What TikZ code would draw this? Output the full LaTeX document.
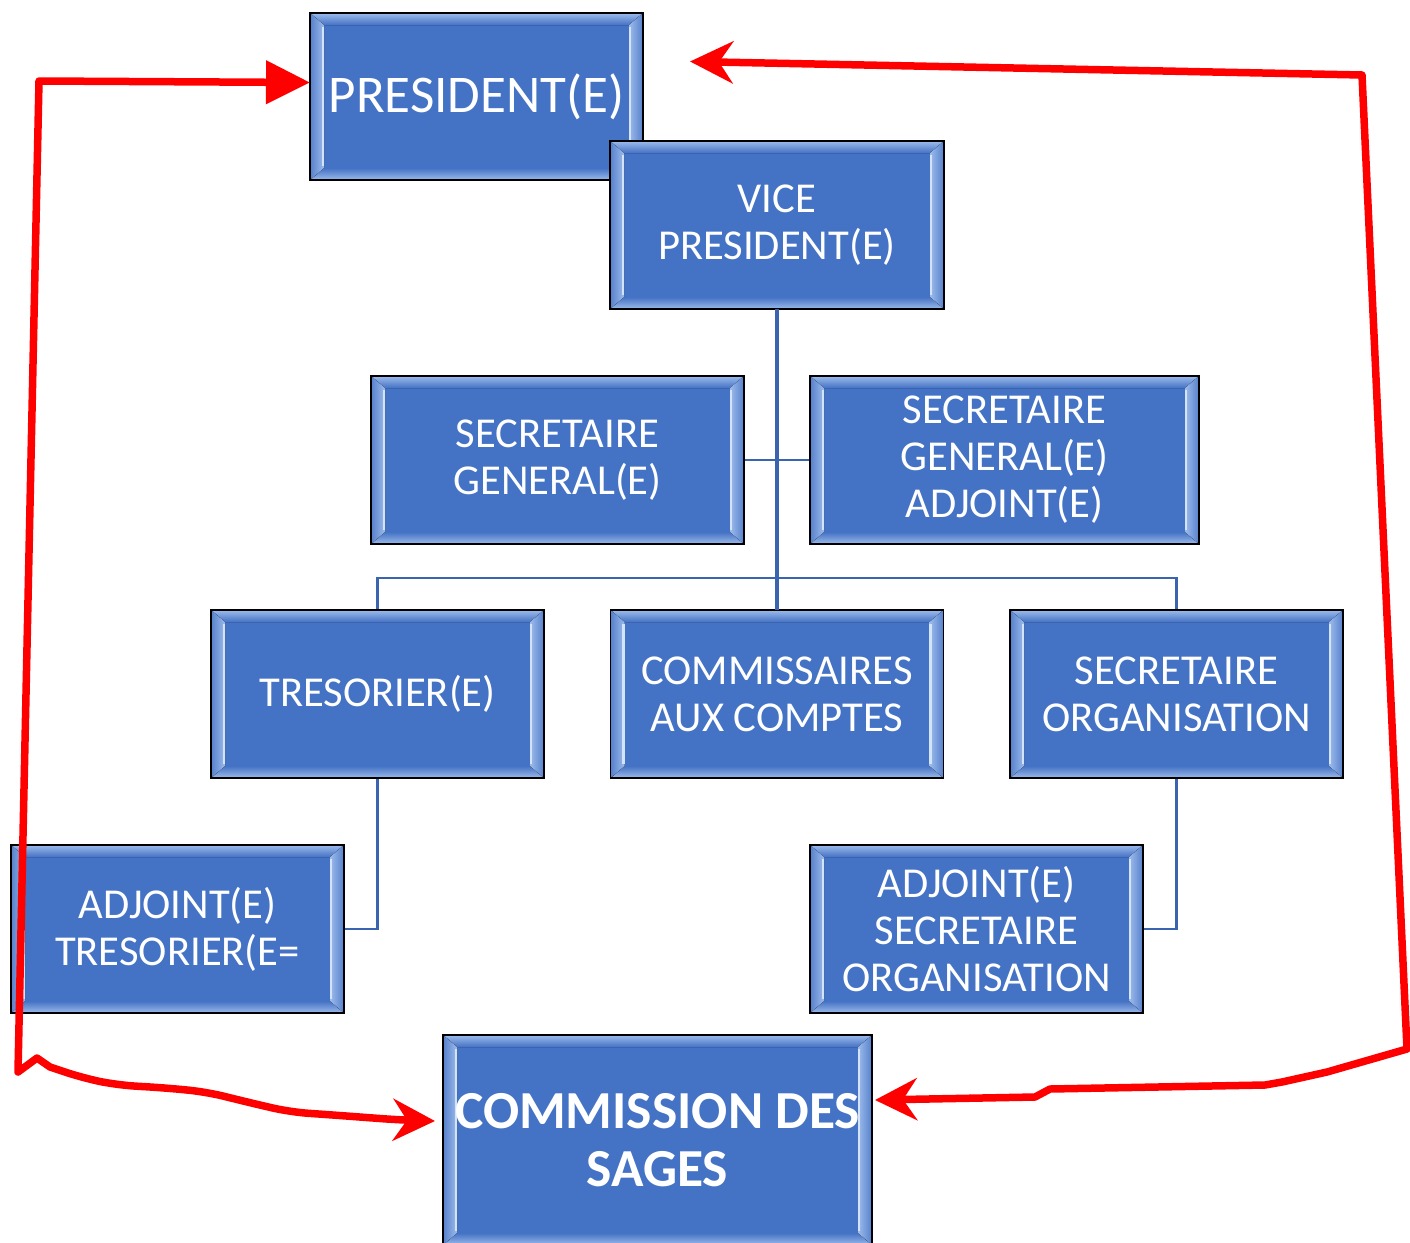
\documentclass[tikz,border=0pt]{standalone}
\usepackage{fontspec}
\setmainfont{Carlito}
\usetikzlibrary{arrows.meta,calc}
\definecolor{boxblue}{HTML}{4472C4}
\definecolor{bevlight}{HTML}{9DBBEB}
\definecolor{bevside}{HTML}{5580CC}
\definecolor{bevstripe}{HTML}{D3E4FA}
\definecolor{linkblue}{HTML}{3A64B0}
\definecolor{arrowred}{HTML}{FF0000}
\tikzset{
  orgbox/.style={fill=boxblue, draw=black, line width=1.6pt, text=white, align=center,
    inner sep=0pt, outer sep=0pt, minimum height=168pt},
  boxtext/.style={text=white, align=center, font=\fontsize{42.6}{47}\selectfont},
  link/.style={draw=linkblue, line width=2.5pt},
  trunk/.style={draw=linkblue, line width=3.2pt},
  redline/.style={draw=arrowred, line width=7.5pt, line join=round, line cap=round},
}
\newcommand\bevel[1]{%
  \fill[top color=bevlight, bottom color=boxblue] (#1.north west) -- (#1.north east) -- ([xshift=-14pt,yshift=-12pt]#1.north east) -- ([xshift=14pt,yshift=-12pt]#1.north west) -- cycle;
  \fill[top color=boxblue, bottom color=bevlight] ([xshift=14pt,yshift=12pt]#1.south west) -- ([xshift=-14pt,yshift=12pt]#1.south east) -- (#1.south east) -- (#1.south west) -- cycle;
  \fill[left color=bevside, right color=bevlight] (#1.north west) -- ([xshift=14pt,yshift=-12pt]#1.north west) -- ([xshift=14pt,yshift=12pt]#1.south west) -- (#1.south west) -- cycle;
  \fill[left color=bevlight, right color=bevside] ([xshift=-14pt,yshift=-12pt]#1.north east) -- (#1.north east) -- (#1.south east) -- ([xshift=-14pt,yshift=12pt]#1.south east) -- cycle;
  \draw[bevstripe, line width=2.5pt] ([xshift=13pt,yshift=-14pt]#1.north west) -- ([xshift=13pt,yshift=14pt]#1.south west);
  \draw[bevstripe, line width=2.5pt] ([xshift=-13pt,yshift=-14pt]#1.north east) -- ([xshift=-13pt,yshift=14pt]#1.south east);
  \draw[black, line width=1.6pt] (#1.north west) rectangle (#1.south east);
}
\begin{document}
\begin{tikzpicture}[x=1pt,y=-1pt]
\clip (0,0) rectangle (1410,1242);
\fill[white] (0,0) rectangle (1410,1242);

\coordinate (sgline) at (777,578);

% boxes
\node[orgbox, minimum width=333pt, minimum height=167pt] (pres) at (476.5,96.5) {};
\bevel{pres}
\node[boxtext, font=\fontsize{53}{58}\selectfont] at (pres.center) {PRESIDENT(E)};

\node[orgbox, minimum width=334pt] (vice) at (777,225) {};
\bevel{vice}
\node[boxtext] at (vice.center) {VICE\\PRESIDENT(E)};

\node[orgbox, minimum width=333pt] (comm) at (777,694) {};
\node[orgbox, minimum width=333pt] (tres) at (377.5,694) {};
\node[orgbox, minimum width=333pt] (secorg) at (1176.5,694) {};

\node[orgbox, minimum width=373pt] (sg) at (557.5,460) {};
\node[orgbox, minimum width=389pt] (sga) at (1004.5,460) {};
\draw[link] (sg.east) -- (sga.west);
\draw[link] (tres.north) |- (sgline) -| (secorg.north);

\node[orgbox, minimum width=333pt] (adjt) at (177.5,929) {};
\node[orgbox, minimum width=333pt] (adjs) at (976.5,929) {};
\draw[link] (tres.south) |- (adjt.east);
\draw[link] (secorg.south) |- (adjs.east);

\node[orgbox, minimum width=429pt, minimum height=210pt] (sages) at (657.5,1140) {};

\foreach \n in {sg,sga,tres,comm,secorg,adjt,adjs,sages}{\bevel{\n}}
\draw[trunk] (vice.south) -- (comm.north);

\node[boxtext] at (sg.center) {SECRETAIRE\\GENERAL(E)};
\node[boxtext] at (sga.center) {SECRETAIRE\\GENERAL(E)\\ADJOINT(E)};
\node[boxtext] at (tres.center) {TRESORIER(E)};
\node[boxtext] at (comm.center) {COMMISSAIRES\\AUX COMPTES};
\node[boxtext] at (secorg.center) {SECRETAIRE\\ORGANISATION};
\node[boxtext] at (adjt.center) {ADJOINT(E)\\TRESORIER(E=};
\node[boxtext] at (adjs.center) {ADJOINT(E)\\SECRETAIRE\\ORGANISATION};
\node[boxtext, font=\bfseries\fontsize{53.5}{58}\selectfont] at (sages.center) {COMMISSION DES\\SAGES};

% red arrows
\draw[redline, {Stealth[length=42pt,width=42pt,inset=14pt]}-{Triangle[length=44pt,width=42pt]}]
  ([xshift=-8pt,yshift=19pt]sages.west)
  [rounded corners=18pt] -- (400,1120) -- (333,1115) -- (290,1112) -- (247,1102) -- (207,1092) -- (167,1088) -- (117,1085) -- (83,1078)
  [sharp corners] -- (50,1067) -- (37,1058) -- (18,1072) -- (39,81) -- ([yshift=14pt]pres.west);
\draw[redline, {Stealth[length=42pt,width=42pt,inset=14pt]}-{Stealth[length=43pt,width=42pt,inset=14pt]}]
  ([xshift=3pt,yshift=40pt]sages.east) -- (1035,1097) -- (1050,1089) -- (1265,1085) -- (1282,1082) -- (1327,1072) -- (1407,1049) -- (1362,75) -- ([xshift=47pt,yshift=35pt]pres.east);
\end{tikzpicture}
\end{document}
